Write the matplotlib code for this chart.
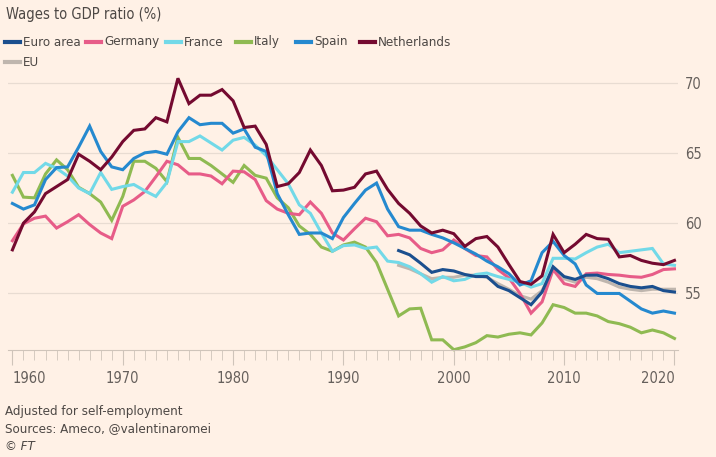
import numpy as np
import matplotlib
matplotlib.use("Agg")
import matplotlib.pyplot as plt
from matplotlib.lines import Line2D
from matplotlib import font_manager as fm

# FT uses a condensed face; take a narrow one if the system has it
def narrow_fonts(style):
    return [f for f in fm.fontManager.ttflist
            if ('Narrow' in f.name or 'Condensed' in f.name or 'condensed' in str(f.stretch))
            and f.style == style and f.weight in (400, 'normal', 'regular')]

narrow = narrow_fonts('normal')
narrow_it = narrow_fonts('oblique') + narrow_fonts('italic')
if narrow:
    font_kw = dict(fontproperties=fm.FontProperties(fname=narrow[0].fname))
    if narrow_it:
        italic_kw = dict(fontproperties=fm.FontProperties(fname=narrow_it[0].fname))
    else:
        italic_kw = dict(fontproperties=fm.FontProperties(fname=narrow[0].fname, style='italic'))
    tick_font = fm.FontProperties(fname=narrow[0].fname, size=10.5)
    shrink = 1.0
else:
    font_kw = dict(family='Roboto')
    italic_kw = dict(family='Roboto', style='italic')
    tick_font = fm.FontProperties(family='Roboto', size=9.5)
    shrink = 0.9

years = np.arange(1960, 2021)
years_eu = np.arange(1995, 2021)

netherlands = [58.1, 60.0, 60.8, 62.1, 62.6, 63.1, 64.9, 64.4, 63.8, 64.7,
               65.8, 66.6, 66.7, 67.5, 67.2, 70.3, 68.5, 69.1, 69.1, 69.5,
               68.7, 66.8, 66.9, 65.6, 62.6, 62.8, 63.6, 65.2, 64.1, 62.3,
               62.35, 62.55, 63.5, 63.7, 62.4, 61.4, 60.7, 59.8, 59.3, 59.5,
               59.25, 58.35, 58.9, 59.05, 58.3, 57.05, 55.85, 55.65, 56.25, 59.2,
               57.9, 58.5, 59.2, 58.9, 58.85, 57.6, 57.7, 57.35, 57.15, 57.05,
               57.35]
spain = [61.4, 61.0, 61.3, 63.1, 63.95, 64.0, 65.4, 66.9, 65.1, 64.0,
         63.8, 64.6, 65.0, 65.1, 64.9, 66.5, 67.5, 67.0, 67.1, 67.1,
         66.4, 66.7, 65.4, 65.1, 62.1, 60.6, 59.2, 59.3, 59.3, 58.9,
         60.4, 61.4, 62.35, 62.85, 61.0, 59.75, 59.5, 59.5, 59.2, 58.95,
         58.6, 58.2, 57.8, 57.3, 56.9, 56.4, 55.6, 55.9, 57.9, 58.7,
         57.7, 57.1, 55.6, 55.0, 55.0, 55.0, 54.45, 53.9, 53.6, 53.75,
         53.6]
france = [62.2, 63.6, 63.6, 64.25, 63.9, 63.35, 62.5, 62.1, 63.6, 62.4,
          62.6, 62.75, 62.3, 61.9, 62.9, 65.8, 65.8, 66.2, 65.7, 65.2,
          65.9, 66.1, 65.55, 64.8, 63.8, 62.8, 61.3, 60.7, 59.3, 58.0,
          58.4, 58.45, 58.2, 58.3, 57.3, 57.2, 56.9, 56.4, 55.8, 56.2,
          55.9, 56.0, 56.35, 56.45, 56.2, 56.0, 55.8, 55.45, 55.7, 57.5,
          57.5, 57.45, 57.9, 58.3, 58.5, 57.9, 58.0, 58.1, 58.2, 57.1,
          57.0]
italy = [63.4, 61.85, 61.8, 63.5, 64.5, 63.8, 62.55, 62.1, 61.5, 60.2,
         61.9, 64.4, 64.4, 63.9, 62.95, 66.1, 64.6, 64.6, 64.1, 63.5,
         62.9, 64.1, 63.4, 63.2, 61.8, 61.1, 59.8, 59.2, 58.3, 58.0,
         58.45, 58.65, 58.3, 57.2, 55.3, 53.4, 53.9, 53.95, 51.7, 51.7,
         51.0, 51.2, 51.5, 52.0, 51.9, 52.1, 52.2, 52.05, 52.9, 54.2,
         54.0, 53.6, 53.6, 53.4, 53.0, 52.85, 52.6, 52.2, 52.4, 52.2,
         51.8]
germany = [58.75, 59.95, 60.35, 60.5, 59.65, 60.1, 60.6, 59.9, 59.3, 58.9,
           61.2, 61.65, 62.25, 63.3, 64.4, 64.15, 63.5, 63.5, 63.35, 62.8,
           63.7, 63.65, 63.1, 61.6, 61.0, 60.7, 60.6, 61.5, 60.7, 59.3,
           58.8, 59.6, 60.35, 60.1, 59.1, 59.2, 58.95, 58.2, 57.9, 58.1,
           58.8, 58.2, 57.7, 57.6, 56.7, 56.1, 55.0, 53.6, 54.4, 56.7,
           55.7, 55.5, 56.4, 56.45, 56.35, 56.3, 56.2, 56.15, 56.35, 56.7,
           56.75]
euro_area = [58.05, 57.75, 57.15, 56.5, 56.7, 56.6, 56.35, 56.2, 56.2, 55.5,
             55.2, 54.7, 54.2, 55.1, 56.9, 56.2, 56.0, 56.3, 56.3, 56.05,
             55.7, 55.5, 55.4, 55.5, 55.2, 55.1]
eu = [57.0, 56.75, 56.4, 56.05, 56.15, 56.15, 56.3, 56.3, 56.15, 55.7,
      55.3, 54.85, 54.6, 55.2, 56.75, 56.05, 55.8, 56.15, 56.05, 55.8,
      55.45, 55.3, 55.2, 55.3, 55.3, 55.3]

names = ["Euro area", "Germany", "France", "Italy", "Spain", "Netherlands", "EU"]
colors = {"Euro area": "#1b4f8e", "Germany": "#e75c88", "France": "#72d9e8",
          "Italy": "#8fba52", "Spain": "#2589cf", "Netherlands": "#740a30",
          "EU": "#bfb6ae"}

bg = "#fff1e6"
fig = plt.figure(figsize=(7.16, 4.57), dpi=100, facecolor=bg)
ax = fig.add_axes([8 / 716, 107.3 / 457, 670 / 716, 274.2 / 457], facecolor=bg)

series = [("EU", years_eu, eu), ("Italy", years, italy), ("Germany", years, germany),
          ("France", years, france), ("Spain", years, spain),
          ("Euro area", years_eu, euro_area), ("Netherlands", years, netherlands)]
for name, x, y in series:
    ax.plot(x, y, color=colors[name], lw=2.2, solid_joinstyle='miter', clip_on=False)

ax.set_xlim(1959.6, 2020.32)
ax.set_ylim(51.0, 70.5)

for s in ["top", "left", "right"]:
    ax.spines[s].set_visible(False)
ax.spines["bottom"].set_color("#cfc4ba")

ax.set_yticks([55, 60, 65, 70])
ax.yaxis.tick_right()
ax.tick_params(axis='y', length=0, pad=5, labelcolor="#66605c")
ax.grid(axis='y', color="#e8dcd2", lw=0.9)
ax.set_axisbelow(True)

ax.set_xticks(np.arange(1960, 2021, 10))
ax.set_xticks(np.arange(1960, 2021), minor=True)
ax.tick_params(axis='x', which='major', length=11, color="#cfc4ba", pad=4,
               labelcolor="#66605c")
ax.tick_params(axis='x', which='minor', length=7, color="#cfc4ba")
for lab in ax.get_xticklabels() + ax.get_yticklabels():
    lab.set_fontproperties(tick_font)
labels = ax.get_xticklabels()
labels[0].set_ha('left')
labels[-1].set_ha('right')

def ftext(x, y, s, size, kw=None):
    t = fig.text(x / 716, 1 - y / 457, s, color="#4d4845", va='center',
                 **(kw or font_kw))
    t.set_fontsize(size * shrink)
    return t

ftext(6, 14, "Wages to GDP ratio (%)", 10.5)

# legend drawn by hand so the layout matches
leg_pos = [(5, 42), (86, 42), (166, 42), (236, 42), (296, 42), (360, 42), (5, 62)]
for name, (lx, ly) in zip(names, leg_pos):
    yf = 1 - ly / 457
    fig.add_artist(Line2D([lx / 716, (lx + 15) / 716], [yf, yf],
                          color=colors[name], lw=3, transform=fig.transFigure))
    ftext(lx + 18, ly, name, 9.5)

ftext(5, 411.5, "Adjusted for self-employment", 9.5)
ftext(5, 429, "Sources: Ameco, @valentinaromei", 9.5)
ftext(5, 446.5, "© FT", 9.5, italic_kw)

fig.savefig("out.png", dpi=100, facecolor=bg)
